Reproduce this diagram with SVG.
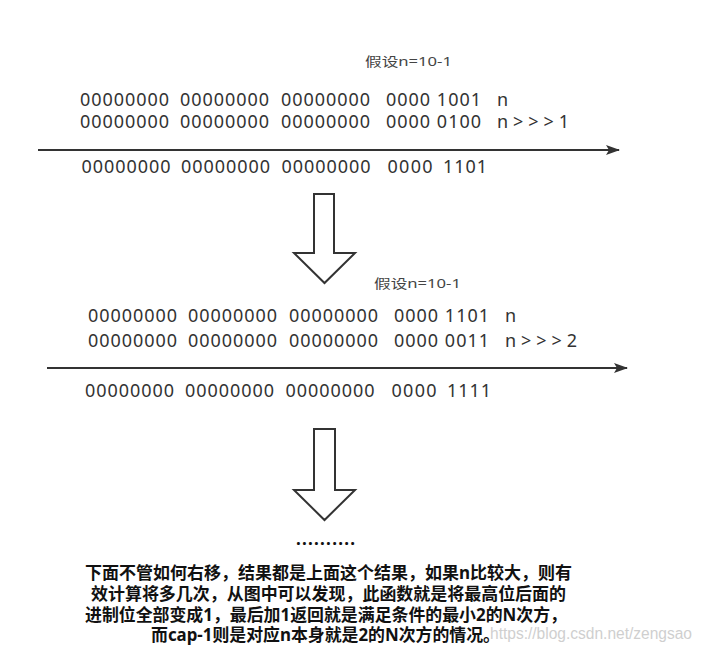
<svg xmlns="http://www.w3.org/2000/svg" width="704" height="651" viewBox="0 0 704 651">
<style>
.num{font-family:"Noto Sans","Open Sans","Liberation Sans",sans-serif;font-size:18px;fill:#333}
.lbl{font-family:"Noto Sans","Noto Sans CJK SC",sans-serif;font-size:13px;fill:#444}
.note{font-family:"Noto Sans","Noto Sans CJK SC",sans-serif;font-size:17px;font-weight:bold;fill:#111}
.wm{font-family:"Liberation Sans","Noto Sans",sans-serif;font-size:16px;fill:#cfcfcf}
.ln{stroke:#333;stroke-width:2;fill:none}
.blk{stroke:#333;stroke-width:2;fill:#fff;stroke-linejoin:miter}
</style>
<defs>
<marker id="ah" viewBox="0 0 14 10" refX="13" refY="5" markerWidth="14" markerHeight="10" markerUnits="userSpaceOnUse" orient="auto">
<path d="M0,0 L14,5 L0,10 L3,5 Z" fill="#333"/>
</marker>
</defs>
<rect width="704" height="651" fill="#fff"/>

<g id="connectors">
<line class="ln" x1="38" y1="150" x2="619" y2="150" marker-end="url(#ah)"/>
<line class="ln" x1="47" y1="368" x2="627" y2="368" marker-end="url(#ah)"/>
<polygon class="blk" points="314,194 334,194 334,253 355,253 324.5,283 294,253 314,253"/>
<polygon class="blk" points="314,429 335,429 335,490 355,490 324.5,520 294,490 314,490"/>
</g>

<g id="label1"><text class="lbl" x="365" y="65.5" textLength="87" lengthAdjust="spacingAndGlyphs">假设n=10-1</text></g>
<g id="block1-row1">
<text class="num" y="105.5"><tspan x="80" textLength="89">00000000</tspan><tspan x="180" textLength="89">00000000</tspan><tspan x="281" textLength="89">00000000</tspan><tspan x="386" textLength="95">0000 1001</tspan><tspan x="497">n</tspan></text>
</g>
<g id="block1-row2">
<text class="num" y="128"><tspan x="80" textLength="89">00000000</tspan><tspan x="180" textLength="89">00000000</tspan><tspan x="281" textLength="89">00000000</tspan><tspan x="386" textLength="95">0000 0100</tspan><tspan x="497" textLength="72">n &gt; &gt; &gt; 1</tspan></text>
</g>
<g id="block1-result">
<text class="num" y="173"><tspan x="81.5" textLength="89">00000000</tspan><tspan x="181" textLength="89">00000000</tspan><tspan x="281.5" textLength="89">00000000</tspan><tspan x="387.5" textLength="45">0000</tspan><tspan x="443" textLength="44">1101</tspan></text>
</g>

<g id="label2"><text class="lbl" x="374" y="287.5" textLength="87" lengthAdjust="spacingAndGlyphs">假设n=10-1</text></g>
<g id="block2-row1">
<text class="num" y="322"><tspan x="88" textLength="89">00000000</tspan><tspan x="188" textLength="89">00000000</tspan><tspan x="289" textLength="89">00000000</tspan><tspan x="394" textLength="95">0000 1101</tspan><tspan x="505">n</tspan></text>
</g>
<g id="block2-row2">
<text class="num" y="347"><tspan x="88" textLength="89">00000000</tspan><tspan x="188" textLength="89">00000000</tspan><tspan x="289" textLength="89">00000000</tspan><tspan x="394" textLength="95">0000 0011</tspan><tspan x="505" textLength="72">n &gt; &gt; &gt; 2</tspan></text>
</g>
<g id="block2-result">
<text class="num" y="397"><tspan x="85" textLength="89">00000000</tspan><tspan x="185" textLength="89">00000000</tspan><tspan x="285.5" textLength="89">00000000</tspan><tspan x="391.5" textLength="45">0000</tspan><tspan x="447" textLength="44">1111</tspan></text>
</g>

<g id="dots"><text class="note" x="296" y="545" textLength="59" lengthAdjust="spacing">..........</text></g>

<g id="watermark"><text class="wm" x="490" y="639" textLength="202" lengthAdjust="spacingAndGlyphs">https://blog.csdn.net/zengsao</text></g>

<g id="note">
<text class="note" x="85" y="579" textLength="487" lengthAdjust="spacingAndGlyphs">下面不管如何右移，结果都是上面这个结果，如果n比较大，则有</text>
<text class="note" x="91" y="600" textLength="475" lengthAdjust="spacingAndGlyphs">效计算将多几次，从图中可以发现，此函数就是将最高位后面的</text>
<text class="note" x="85" y="620.5" textLength="482" lengthAdjust="spacingAndGlyphs">进制位全部变成1，最后加1返回就是满足条件的最小2的N次方，</text>
<text class="note" x="151" y="641" textLength="349" lengthAdjust="spacingAndGlyphs">而cap-1则是对应n本身就是2的N次方的情况。</text>
</g>
</svg>
